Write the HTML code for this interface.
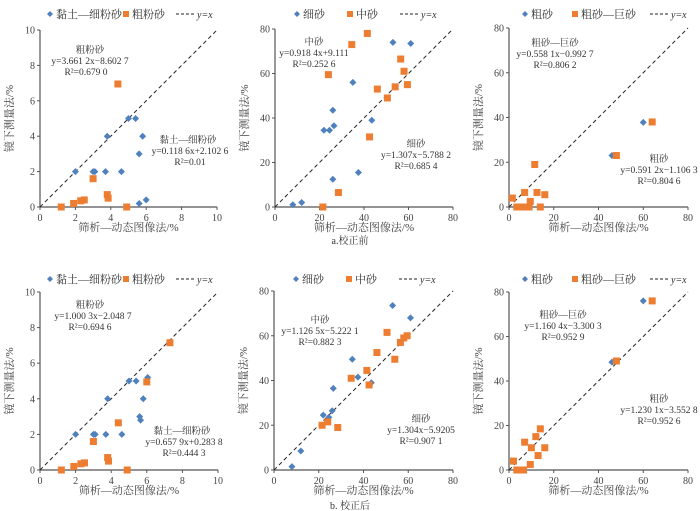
<!DOCTYPE html>
<html><head><meta charset="utf-8"><style>
body{margin:0;background:#fff;}
svg{display:block;font-family:"Liberation Serif","Noto Serif CJK SC",serif;}
</style></head><body>
<svg id="c" width="700" height="511" viewBox="0 0 700 511"></svg>
<script>
// ---- data ----
const p1BlueX=[2,3,3.1,3.7,3.8,4.6,5,5.4,5.8,5.6,5.6,6];
const p1BlueY=[2,2,2,2,4,2,5,5,4,3,0.2,0.4];
const p1OrX=[4.4,3,1.2,1.9,2.3,2.5,3.8,3.85,4.9];
const p1OrY=[6.95,1.6,0,0.2,0.35,0.4,0.7,0.5,0];
const p2BlueX=[8,12,22,24.5,26,26.5,26,35,37.5,43.5,53,61];
const p2BlueY=[1,2,34.5,34.5,43.5,36.5,12.5,56,15.5,39,74,73.5];
const p2OrX=[24,34.5,41.5,28.5,21.5,42.5,46,50.5,54,56.5,58,59.5];
const p2OrY=[59.5,73,78,6.5,0,31.5,53,49,54,66.5,61,55];
const p3BlueX=[60,46];
const p3BlueY=[37.8,23];
const p3OrX=[64,48,11.5,1.5,3.5,6,9,14,7,12.5,9.5,16];
const p3OrY=[38,23,19,4,0,0,0,0,6.5,6.5,2.5,5.5];
const p4BlueX=[2,3,3.1,3.7,3.8,4.6,5,5.4,5.8,5.6,5.65,6.05];
const p4BlueY=[2,2,2,2,4,2,5,5,4,3,2.8,5.2];
const p4OrX=[7.3,6,4.4,3,1.2,1.9,2.3,2.5,3.8,3.85,4.9];
const p4OrY=[7.15,4.95,2.65,1.6,0,0.2,0.35,0.4,0.7,0.5,0];
const p5BlueX=[8,12,22,24.5,26,26.5,35,37.5,43.5,53,61];
const p5BlueY=[1.5,8.5,24.5,23.5,26.5,36.5,49.5,41.5,39,73.5,68];
const p5OrX=[21.5,24,28.5,34.5,41.5,42.5,46,50.5,54,56.5,58,59.5];
const p5OrY=[20,21.5,19,41,44.5,38,52.5,61.5,49.5,57,59,60];
const p6BlueX=[60,46];
const p6BlueY=[76,48.5];
const p6OrX=[64,48,2,3.5,6.5,7,9.5,10,12,13,14,16];
const p6OrY=[76,49,4,0,0,12.5,2.5,10,15,6.5,18.5,10];
const ticks10=[0,2,4,6,8,10];
const ticks80=[0,20,40,60,80];

const NS="http://www.w3.org/2000/svg";
const svg=document.getElementById('c');
function mk(tag,attrs,parent,txt){const e=document.createElementNS(NS,tag);for(const k in attrs)e.setAttribute(k,attrs[k]);if(txt!==undefined)e.textContent=txt;(parent||svg).appendChild(e);return e;}

const panels=[
 {id:'p1',x0:40,x1:217,y0:207,y1:30,ly:14,lo:[10,86,136],max:10,ticks:ticks10,bx:p1BlueX,by:p1BlueY,ox:p1OrX,oy:p1OrY,leg:['黏土—细粉砂','粗粉砂'],
  ann:[[90,53,'粗粉砂'],[90,64,'y=3.661 2x−8.602 7'],[86,75,'R²=0.679 0'],[188,143,'黏土—细粉砂'],[190,154,'y=0.118 6x+2.102 6'],[190,165,'R²=0.01']]},
 {id:'p2',x0:275,x1:453,y0:207,y1:29,ly:14,lo:[22,75,125],max:80,ticks:ticks80,bx:p2BlueX,by:p2BlueY,ox:p2OrX,oy:p2OrY,leg:['细砂','中砂'],
  ann:[[314,45,'中砂'],[314,56,'y=0.918 4x+9.111'],[314,67,'R²=0.252 6'],[416,147,'细砂'],[416,158,'y=1.307x−5.788 2'],[416,169,'R²=0.685 4']]},
 {id:'p3',x0:509,x1:688,y0:207,y1:28,ly:14,lo:[16,66,141],max:80,ticks:ticks80,bx:p3BlueX,by:p3BlueY,ox:p3OrX,oy:p3OrY,leg:['粗砂','粗砂—巨砂'],
  ann:[[555,46,'粗砂—巨砂'],[555,57,'y=0.558 1x−0.992 7'],[555,68,'R²=0.806 2'],[659,162,'粗砂'],[659,173,'y=0.591 2x−1.106 3'],[659,184,'R²=0.804 6']]},
 {id:'p4',x0:40,x1:218,y0:470,y1:292,ly:279,lo:[10,86,136],max:10,ticks:ticks10,bx:p4BlueX,by:p4BlueY,ox:p4OrX,oy:p4OrY,leg:['黏土—细粉砂','粗粉砂'],
  ann:[[90,308,'粗粉砂'],[93,319,'y=1.000 3x−2.048 7'],[90,330,'R²=0.694 6'],[182,434,'黏土—细粉砂'],[184,445,'y=0.657 9x+0.283 8'],[184,456,'R²=0.444 3']]},
 {id:'p5',x0:274,x1:453,y0:470,y1:291,ly:279,lo:[22,75,125],max:80,ticks:ticks80,bx:p5BlueX,by:p5BlueY,ox:p5OrX,oy:p5OrY,leg:['细砂','中砂'],
  ann:[[320,323,'中砂'],[320,334,'y=1.126 5x−5.222 1'],[320,345,'R²=0.882 3'],[421,422,'细砂'],[421,433,'y=1.304x−5.9205'],[421,444,'R²=0.907 1']]},
 {id:'p6',x0:509,x1:688,y0:470,y1:292,ly:279,lo:[16,66,141],max:80,ticks:ticks80,bx:p6BlueX,by:p6BlueY,ox:p6OrX,oy:p6OrY,leg:['粗砂','粗砂—巨砂'],
  ann:[[563,318,'粗砂—巨砂'],[563,329,'y=1.160 4x−3.300 3'],[563,340,'R²=0.952 9'],[659,402,'粗砂'],[659,413,'y=1.230 1x−3.552 8'],[659,424,'R²=0.952 6']]}
];

panels.forEach(p=>{
 const g=mk('g',{},svg);
 
 
 const sx=v=>p.x0+(p.x1-p.x0)*v/p.max, sy=v=>p.y0-(p.y0-p.y1)*v/p.max;
 const ax=mk('path',{d:`M${p.x0},${p.y1}V${p.y0}H${p.x1}`,stroke:'#555',fill:'none','stroke-width':1.2},g);
 
 p.ticks.forEach(t=>{
  mk('line',{x1:p.x0-3,x2:p.x0,y1:sy(t),y2:sy(t),stroke:'#555'},g);
  mk('line',{x1:sx(t),x2:sx(t),y1:p.y0,y2:p.y0+3,stroke:'#555'},g);
  const yl=mk('text',{x:p.x0-5,y:sy(t)+3.5,'text-anchor':'end','font-size':10,fill:'#444'},g,t);
  
  const xl=mk('text',{x:sx(t),y:p.y0+14,'text-anchor':'middle','font-size':10,fill:'#444'},g,t);
  
 });
 const d=mk('line',{x1:sx(0),y1:sy(0),x2:sx(p.max),y2:sy(p.max),stroke:'#222','stroke-dasharray':'4,3','stroke-width':1},g);
 
 p.bx.forEach((v,i)=>{const x=sx(v),y=sy(p.by[i]);
  const m=mk('path',{d:`M${x},${y-3.5}L${x+3.5},${y}L${x},${y+3.5}L${x-3.5},${y}Z`,fill:'#4f81bd'},g);
  });
 p.ox.forEach((v,i)=>{const x=sx(v),y=sy(p.oy[i]);
  const m=mk('rect',{x:x-3.5,y:y-3.5,width:7,height:7,fill:'#ed7d31'},g);
  });
 // legend
 const ly=p.ly, lx=p.x0+p.lo[0];
 const lg=mk('g',{},g);
 mk('path',{d:`M${lx},${ly-3}L${lx+3},${ly}L${lx},${ly+3}L${lx-3},${ly}Z`,fill:'#4f81bd'},lg);
 mk('text',{x:lx+6,y:ly+4,'font-size':11,fill:'#333'},lg,p.leg[0]);
 const lx2=p.x0+p.lo[1];
 mk('rect',{x:lx2-3,y:ly-3,width:6,height:6,fill:'#ed7d31'},lg);
 mk('text',{x:lx2+6,y:ly+4,'font-size':11,fill:'#333'},lg,p.leg[1]);
 const lx3=p.x0+p.lo[2];
 mk('line',{x1:lx3,x2:lx3+18,y1:ly,y2:ly,stroke:'#222','stroke-dasharray':'3,2'},lg);
 mk('text',{x:lx3+21,y:ly+4,'font-size':10,'font-style':'italic',fill:'#333'},lg,'y=x');
 p.ann.forEach(a=>{const t=mk('text',{x:a[0],y:a[1],'text-anchor':'middle','font-size':9.5,fill:'#333'},g,a[2]);
  });
 const xt=mk('text',{x:(p.x0+p.x1)/2,y:p.y0+24,'text-anchor':'middle','font-size':11,fill:'#444'},g,'筛析—动态图像法/%');
 
 const yc=(p.y0+p.y1)/2, yx=p.x0-27;
 const yt=mk('text',{x:yx,y:yc,'text-anchor':'middle','font-size':11,fill:'#444',transform:`rotate(-90 ${yx} ${yc})`},g,'镜下测量法/%');
 
});
const c1=mk('text',{x:350,y:244,'text-anchor':'middle','font-size':10,fill:'#333'},svg,'a.校正前');

const c2=mk('text',{x:350,y:509,'text-anchor':'middle','font-size':10,fill:'#333'},svg,'b. 校正后');

</script>
</body></html>
